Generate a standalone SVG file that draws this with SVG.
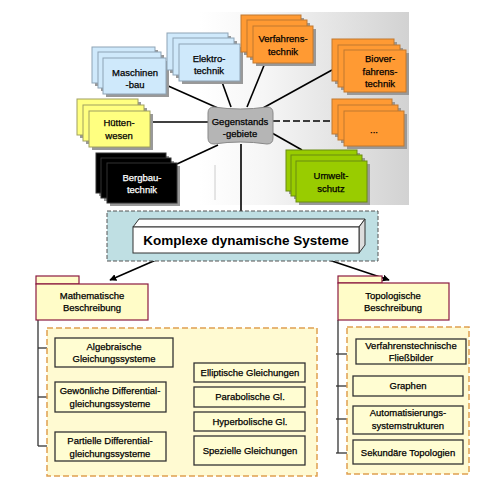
<svg xmlns="http://www.w3.org/2000/svg" width="484" height="493" viewBox="0 0 484 493">
<defs>
<linearGradient id="bg" x1="0" y1="0" x2="1" y2="0">
<stop offset="0" stop-color="#ffffff"/>
<stop offset="0.3" stop-color="#f6f6f6"/>
<stop offset="1" stop-color="#d2d2d2"/>
</linearGradient>
<marker id="ah" viewBox="0 0 10 10" refX="9" refY="5" markerWidth="7" markerHeight="7" orient="auto" markerUnits="userSpaceOnUse">
<path d="M0,0 L10,5 L0,10 Z" fill="#000"/>
</marker>
<marker id="chev" viewBox="0 0 10 10" refX="9" refY="5" markerWidth="7" markerHeight="7" orient="auto" markerUnits="userSpaceOnUse">
<path d="M2,1 L9,5 L2,9" fill="none" stroke="#333" stroke-width="1.6"/>
</marker>
</defs>
<style>
text{font-family:"Liberation Sans",Arial,sans-serif;font-size:9.5px;text-anchor:middle;fill:#000;stroke:#000;stroke-width:0.25}
.sh{fill:#999}
.blue{fill:#cfe9fb;stroke:#8ea3b5;stroke-width:1}
.yel{fill:#ffff80;stroke:#a0a060;stroke-width:1}
.org{fill:#ff9a33;stroke:#c07830;stroke-width:1}
.grn{fill:#99cc00;stroke:#6a8c10;stroke-width:1}
.blk{fill:#000;stroke:#333;stroke-width:1}
.ln{stroke:#000;stroke-width:1.6;fill:none}
.tree{stroke:#333;stroke-width:1.3;fill:none}
.sub{fill:#fffdd2;stroke:#333;stroke-width:1.3}
.cont{fill:#fffad2;stroke:#e0a050;stroke-width:1.5;stroke-dasharray:6,3}
.hdr{fill:#fffcc8;stroke:#8b1a40;stroke-width:1.2}
</style>

<rect x="200" y="12" width="209" height="193" fill="url(#bg)"/>
<line x1="215" y1="165" x2="215" y2="200" stroke="#ccc" stroke-width="1"/>

<g id="connectors">
<line class="ln" x1="166" y1="85" x2="220" y2="109"/>
<line class="ln" x1="222" y1="82" x2="231" y2="107"/>
<line class="ln" x1="265" y1="63" x2="247" y2="107"/>
<line class="ln" x1="332" y1="70" x2="263" y2="108"/>
<line class="ln" x1="273" y1="121" x2="332" y2="121" stroke-dasharray="7,3"/>
<line class="ln" x1="272" y1="133" x2="302" y2="150"/>
<line class="ln" x1="150" y1="122" x2="208" y2="122"/>
<line class="ln" x1="177" y1="164" x2="218" y2="145"/>
<line class="ln" x1="241" y1="144" x2="241" y2="227"/>
<line class="ln" x1="172" y1="253" x2="110" y2="280" marker-end="url(#ah)"/>
<line class="ln" x1="308" y1="253" x2="389" y2="280" marker-end="url(#ah)"/>
<polyline class="tree" points="38,320 38,446"/>
<line class="tree" x1="38" y1="348" x2="54" y2="348" stroke="#000" marker-end="url(#chev)"/>
<line class="tree" x1="38" y1="397" x2="54" y2="397" stroke="#666" marker-end="url(#chev)"/>
<line class="tree" x1="38" y1="446" x2="54" y2="446" marker-end="url(#chev)"/>
<line class="tree" x1="166" y1="446" x2="185" y2="446" stroke="#666" marker-end="url(#chev)"/>
<polyline class="tree" points="186,371 186,453"/>
<line class="tree" x1="186" y1="371" x2="193" y2="371" marker-end="url(#chev)"/>
<line class="tree" x1="186" y1="397" x2="193" y2="397" marker-end="url(#chev)"/>
<line class="tree" x1="186" y1="421" x2="193" y2="421" marker-end="url(#chev)"/>
<line class="tree" x1="186" y1="453" x2="193" y2="453" marker-end="url(#chev)"/>
<polyline class="tree" points="338,320 338,453"/>
<line class="tree" x1="336" y1="354" x2="355" y2="354" stroke="#000" marker-end="url(#chev)"/>
<line class="tree" x1="336" y1="386" x2="352" y2="386" marker-end="url(#chev)"/>
<line class="tree" x1="336" y1="419" x2="352" y2="419" stroke="#000" marker-end="url(#chev)"/>
<line class="tree" x1="336" y1="453" x2="352" y2="453" marker-end="url(#chev)"/>
</g>

<g id="maschinenbau">
<rect class="sh" x="95" y="50" width="63" height="36"/><rect class="blue" x="92" y="47" width="63" height="36"/>
<rect class="sh" x="101" y="55" width="63" height="36"/><rect class="blue" x="98" y="52" width="63" height="36"/>
<rect class="sh" x="106" y="61" width="63" height="36"/><rect class="blue" x="103" y="58" width="63" height="36"/>
<text x="135" y="76">Maschinen</text><text x="135" y="88">-bau</text>
</g>
<g id="elektrotechnik">
<rect class="sh" x="170" y="36" width="61" height="37"/><rect class="blue" x="167" y="33" width="61" height="37"/>
<rect class="sh" x="176" y="41" width="61" height="37"/><rect class="blue" x="173" y="38" width="61" height="37"/>
<rect class="sh" x="182" y="47" width="61" height="37"/><rect class="blue" x="179" y="44" width="61" height="37"/>
<text x="209" y="62">Elektro-</text><text x="209" y="74">technik</text>
</g>
<g id="huettenwesen">
<rect class="sh" x="80" y="102" width="61" height="36"/><rect class="yel" x="77" y="99" width="61" height="36"/>
<rect class="sh" x="86" y="108" width="61" height="36"/><rect class="yel" x="83" y="105" width="61" height="36"/>
<rect class="sh" x="92" y="114" width="61" height="36"/><rect class="yel" x="89" y="111" width="61" height="36"/>
<text x="119" y="126">Hütten-</text><text x="119" y="139">wesen</text>
</g>
<g id="bergbautechnik">
<rect class="sh" x="99" y="156" width="70" height="40"/><rect class="blk" x="96" y="153" width="70" height="40"/>
<rect class="sh" x="104" y="161" width="70" height="40"/><rect class="blk" x="101" y="158" width="70" height="40"/>
<rect class="sh" x="110" y="166" width="70" height="40"/><rect class="blk" x="107" y="163" width="70" height="40"/>
<text x="142" y="181" style="fill:#fff;stroke:#fff">Bergbau-</text><text x="142" y="193" style="fill:#fff;stroke:#fff">technik</text>
</g>
<g id="gegenstandsgebiete">
<path d="M208,113 Q208,107 214,107 Q240,111 267,107 Q273,107 273,113 L273,138 Q273,144 267,144 Q240,140 214,144 Q208,144 208,138 Z" fill="#b5b5b5" stroke="#888" stroke-width="1"/>
<text x="240" y="125">Gegenstands</text><text x="240" y="137">-gebiete</text>
</g>
<g id="verfahrenstechnik">
<rect class="sh" x="244" y="18" width="60" height="37"/><rect class="org" x="241" y="15" width="60" height="37"/>
<rect class="sh" x="250" y="23" width="60" height="37"/><rect class="org" x="247" y="20" width="60" height="37"/>
<rect class="sh" x="256" y="29" width="60" height="37"/><rect class="org" x="253" y="26" width="60" height="37"/>
<text x="283" y="42">Verfahrens-</text><text x="283" y="55">technik</text>
</g>
<g id="bioverfahrenstechnik">
<rect class="sh" x="335" y="42" width="62" height="42"/><rect class="org" x="332" y="39" width="62" height="42"/>
<rect class="sh" x="341" y="48" width="62" height="42"/><rect class="org" x="338" y="45" width="62" height="42"/>
<rect class="sh" x="347" y="53" width="62" height="42"/><rect class="org" x="344" y="50" width="62" height="42"/>
<text x="380" y="62">Biover-</text><text x="380" y="75">fahrens-</text><text x="380" y="87">technik</text>
</g>
<g id="dots">
<rect class="sh" x="335" y="102" width="60" height="35"/><rect class="org" x="332" y="99" width="60" height="35"/>
<rect class="sh" x="341" y="108" width="60" height="35"/><rect class="org" x="338" y="105" width="60" height="35"/>
<rect class="sh" x="347" y="114" width="60" height="35"/><rect class="org" x="344" y="111" width="60" height="35"/>
<text x="374" y="133">...</text>
</g>
<g id="umweltschutz">
<rect class="sh" x="289" y="153" width="71" height="41"/><rect class="grn" x="286" y="150" width="71" height="41"/>
<rect class="sh" x="294" y="158" width="71" height="41"/><rect class="grn" x="291" y="155" width="71" height="41"/>
<rect class="sh" x="299" y="164" width="71" height="41"/><rect class="grn" x="296" y="161" width="71" height="41"/>
<text x="331" y="179">Umwelt-</text><text x="331" y="192">schutz</text>
</g>

<g id="komplexe">
<rect x="107" y="211" width="271" height="50" fill="#bfdfe3" stroke="#555" stroke-width="1" stroke-dasharray="4,2"/>
<polygon points="133,227 139,219 365,219 359,227" fill="#fff" stroke="#333" stroke-width="1"/>
<polygon points="359,227 365,219 365,245 359,253" fill="#ddd" stroke="#333" stroke-width="1"/>
<rect x="133" y="227" width="226" height="26" fill="#fff" stroke="#333" stroke-width="1"/>
<text x="246" y="245" style="font-size:13.5px;font-weight:bold;stroke-width:0">Komplexe dynamische Systeme</text>
</g>

<g id="mathematische">
<rect class="hdr" x="36" y="276" width="43" height="8"/>
<rect class="hdr" x="36" y="284" width="112" height="36"/>
<text x="92" y="299">Mathematische</text><text x="92" y="311">Beschreibung</text>
</g>
<g id="topologische">
<rect class="hdr" x="338" y="276" width="44" height="7"/>
<rect class="hdr" x="338" y="283" width="111" height="37"/>
<text x="393" y="299">Topologische</text><text x="393" y="311">Beschreibung</text>
</g>
<rect id="math-container" class="cont" x="47" y="328" width="270" height="148"/>
<rect id="topo-container" class="cont" x="347" y="327" width="122" height="147"/>

<g id="algebraische"><rect class="sub" x="55" y="338" width="118" height="29"/>
<text x="114" y="350">Algebraische</text><text x="114" y="362">Gleichungssysteme</text></g>
<g id="gewoehnliche"><rect class="sub" x="55" y="382" width="111" height="30"/>
<text x="110" y="394">Gewönliche Differential-</text><text x="110" y="407">gleichungssysteme</text></g>
<g id="partielle"><rect class="sub" x="55" y="432" width="111" height="29"/>
<text x="110" y="444">Partielle Differential-</text><text x="110" y="457">gleichungssysteme</text></g>
<g id="elliptische"><rect class="sub" x="194" y="363" width="111" height="19"/>
<text x="250" y="376">Elliptische Gleichungen</text></g>
<g id="parabolische"><rect class="sub" x="194" y="387" width="111" height="20"/>
<text x="250" y="400">Parabolische Gl.</text></g>
<g id="hyperbolische"><rect class="sub" x="194" y="412" width="111" height="19"/>
<text x="250" y="425">Hyperbolische Gl.</text></g>
<g id="spezielle"><rect class="sub" x="194" y="436" width="111" height="29"/>
<text x="250" y="454">Spezielle Gleichungen</text></g>

<g id="fliessbilder"><rect class="sub" x="356" y="339" width="110" height="25"/>
<text x="411" y="349">Verfahrenstechnische</text><text x="411" y="361">Fließbilder</text></g>
<g id="graphen"><rect class="sub" x="353" y="376" width="110" height="20"/>
<text x="408" y="389">Graphen</text></g>
<g id="automatisierung"><rect class="sub" x="353" y="406" width="110" height="28"/>
<text x="408" y="416">Automatisierungs-</text><text x="408" y="429">systemstrukturen</text></g>
<g id="sekundaere"><rect class="sub" x="353" y="440" width="110" height="24"/>
<text x="408" y="456">Sekundäre Topologien</text></g>
</svg>
